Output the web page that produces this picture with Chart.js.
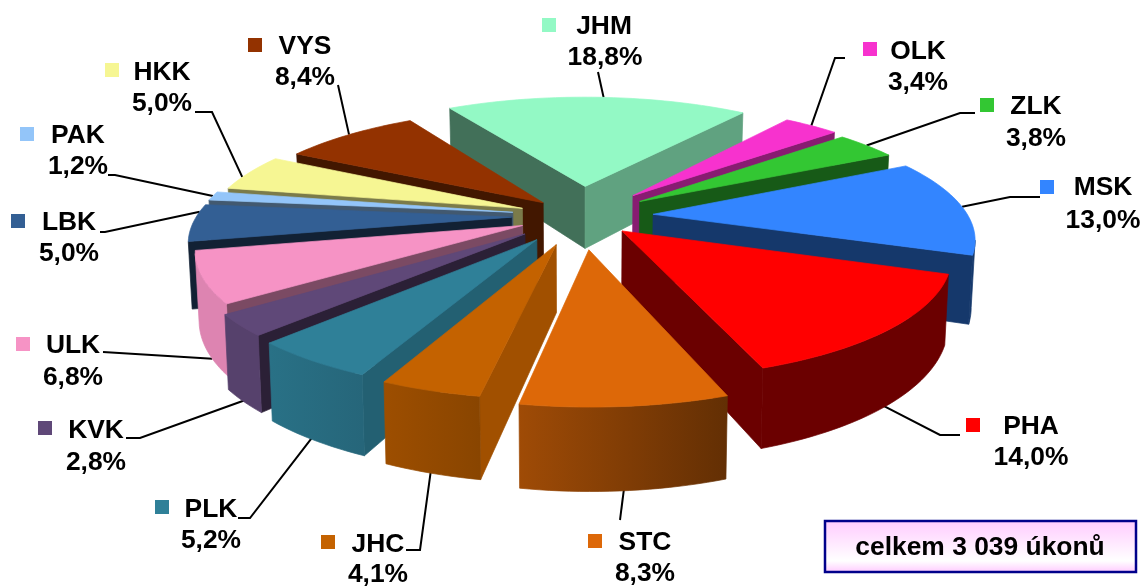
<!DOCTYPE html>
<html>
<head>
<meta charset="utf-8">
<title>Úkony podle krajů</title>
<script src="https://cdn.jsdelivr.net/npm/chart.js@4"></script>
<style>
  html, body { margin: 0; padding: 0; background: #fff; }
  #wrap { position: relative; width: 1144px; height: 587px; }
</style>
</head>
<body>
<div id="wrap"><canvas id="pie"></canvas></div>
<script>
// data
const regions = ["JHM", "OLK", "ZLK", "MSK", "PHA", "STC", "JHC", "PLK", "KVK", "ULK", "LBK", "PAK", "HKK", "VYS"];
const shares = [18.8, 3.4, 3.8, 13.0, 14.0, 8.3, 4.1, 5.2, 2.8, 6.8, 5.0, 1.2, 5.0, 8.4];
const totalNote = "celkem 3 039 úkonů";

// styling
const colours = ["#93F9C5", "#F732CE", "#33C733", "#3385FF", "#FF0000", "#DD6808", "#C46200", "#2F8098", "#5F4878", "#F693C5", "#335F94", "#93C5F9", "#F6F693", "#933200"];
const explode = [27, 25, 23, 23, 18, 28, 25, 24, 23, 20, 22, 22, 20, 17]; // % of radius
const startWall = [.45, .5, .5, .5, .5, .5, .82, .75, .45, .5, .35, .45, .5, .45];
const endWall = [.65, .55, .45, .42, .42, .5, .5, .5, .5, .5, .5, .5, .5, .5];
const rimFrom = [.6, .6, .6, .42, .42, .45, .7, .8, .9, .9, .45, .7, .7, .6];
const rimTo = [.6, .6, .6, .42, .42, .72, .8, .88, .9, .9, .45, .7, .7, .6];

// label layout: name centre x/y, percent centre x/y, key x/y, leader start and elbows
const labelName = [[604, 27], [918, 52], [1036, 107], [1103, 188], [1031, 427], [645, 543], [378, 545], [211, 510], [96, 431], [73, 346], [69, 223], [78, 136], [162, 73], [305, 47]];
const labelPct = [[605, 58], [918, 83], [1036, 139], [1103, 221], [1031, 458], [645, 574], [378, 575], [211, 541], [96, 463], [73, 378], [69, 254], [78, 167], [162, 104], [305, 78]];
const labelKey = [[549, 25], [870, 49], [987, 105], [1047, 187], [973, 425], [595, 541], [328, 542], [162, 507], [45, 428], [23, 344], [18, 221], [27, 134], [112, 70], [255, 45]];
const leaderAlong = [.52, .5, .5, .5, .55, .5, .5, .48, .3, .33, .8, .5, .35, .5]; // share of the slice sweep
const leaderLow = [0, 0, 0, 0, .9, .9, .9, .9, .9, 1, 0, 0, 0, 0];
const leaderTo = [
  [[598, 72]], [[835, 58], [845, 58]], [[960, 113], [975, 113]], [[1010, 197], [1040, 197]],
  [[940, 435], [960, 435]], [[620, 520]], [[420, 550], [406, 550]], [[250, 518], [238, 518]],
  [[140, 438], [126, 438]], [[103, 352]], [[105, 232], [100, 232]], [[115, 175], [108, 175]],
  [[212, 112], [195, 112]], [[338, 85]]
];

// view of the flat pie: centre, horizontal and vertical size, perspective, thickness
const view = { cx: 581, cy: 216, sx: 315, sy: 115, q: 0.18, depth: 65, taper: 0.99 };

function project(u, v, z) {
  const s = 1 / (1 - view.q * v);
  const k = z ? view.taper : 1;
  return [view.cx + u * view.sx * s * k, view.cy + v * view.sy * s + z * view.depth * s];
}

function shade(hex, f) {
  const n = parseInt(hex.slice(1), 16);
  const c = [n >> 16, (n >> 8) & 255, n & 255].map(x => Math.round(x * f));
  return `rgb(${c[0]},${c[1]},${c[2]})`;
}

function cross(a, b, c) {
  return (b[0] - a[0]) * (c[1] - a[1]) - (b[1] - a[1]) * (c[0] - a[0]);
}

// wall below edge a-b is seen only if "down" leaves the slice on that side
function faces(a, b, inside) {
  const down = [a[0], a[1] + 10];
  return Math.sign(cross(a, b, down)) !== Math.sign(cross(a, b, inside));
}

function poly(ctx, pts, fill) {
  ctx.beginPath();
  pts.forEach((p, i) => (i ? ctx.lineTo(p[0], p[1]) : ctx.moveTo(p[0], p[1])));
  ctx.closePath();
  ctx.fillStyle = fill;
  ctx.fill();
  ctx.strokeStyle = fill;
  ctx.lineWidth = 0.7;
  ctx.stroke();
}

function drawSlice(ctx, el, i) {
  const { startAngle, endAngle } = el.getProps(["startAngle", "endAngle"], true);
  const mid = (startAngle + endAngle) / 2;
  const off = el.options.offset / 100;
  const ou = off * Math.cos(mid), ov = off * Math.sin(mid);
  const base = colours[i];

  const at = (a, r, z) => project(ou + r * Math.cos(a), ov + r * Math.sin(a), z);
  const apex = at(mid, 0, 0), apexLow = at(mid, 0, 1);
  const steps = Math.max(8, Math.round((endAngle - startAngle) * 40));

  const s0 = at(startAngle, 1, 0), e0 = at(endAngle, 1, 0);
  const walls = [
    [s0, at(startAngle, 1, 1), startWall[i], e0],
    [e0, at(endAngle, 1, 1), endWall[i], s0]
  ];
  walls.forEach(w => {
    if (faces(apex, w[0], w[3])) poly(ctx, [apex, w[0], w[1], apexLow], shade(base, w[2]));
  });

  // outer wall: the seen part of the rim as one shape
  const upper = [], lower = [];
  for (let k = 0; k < steps; k++) {
    const a1 = startAngle + (endAngle - startAngle) * k / steps;
    const a2 = startAngle + (endAngle - startAngle) * (k + 1) / steps;
    const p1 = at(a1, 1, 0), p2 = at(a2, 1, 0);
    if (!faces(p1, p2, apex)) continue;
    if (!upper.length) { upper.push(p1); lower.push(at(a1, 1, 1)); }
    upper.push(p2);
    lower.push(at(a2, 1, 1));
  }
  if (upper.length) {
    const g = ctx.createLinearGradient(s0[0], 0, e0[0], 0);
    g.addColorStop(0, shade(base, rimFrom[i]));
    g.addColorStop(1, shade(base, rimTo[i]));
    poly(ctx, upper.concat(lower.reverse()), g);
  }

  const top = [apex];
  for (let k = 0; k <= steps; k++) top.push(at(startAngle + (endAngle - startAngle) * k / steps, 1, 0));
  poly(ctx, top, base);
}

const pie3d = {
  id: "pie3d",
  // the library lays the arcs out, this plugin paints them tilted
  beforeDatasetDraw(chart) {
    const ctx = chart.ctx;
    const arcs = chart.getDatasetMeta(0).data;

    // leaders go under the slices
    ctx.save();
    ctx.strokeStyle = "#000";
    ctx.lineWidth = 2;
    arcs.forEach((el, i) => {
      const { startAngle, endAngle } = el.getProps(["startAngle", "endAngle"], true);
      const mid = (startAngle + endAngle) / 2;
      const a = startAngle + (endAngle - startAngle) * leaderAlong[i];
      const off = el.options.offset / 100;
      const p = project(off * Math.cos(mid) + Math.cos(a), off * Math.sin(mid) + Math.sin(a), leaderLow[i]);
      ctx.beginPath();
      ctx.moveTo(p[0], p[1]);
      leaderTo[i].forEach(q => ctx.lineTo(q[0], q[1]));
      ctx.stroke();
    });

    // back to front
    const order = arcs.map((el, i) => {
      const { startAngle, endAngle } = el.getProps(["startAngle", "endAngle"], true);
      return { i, key: Math.sin((startAngle + endAngle) / 2) };
    }).sort((a, b) => a.key - b.key);
    order.forEach(o => drawSlice(ctx, arcs[o.i], o.i));
    ctx.restore();
    return false;
  },
  afterDraw(chart) {
    const ctx = chart.ctx;
    ctx.save();
    ctx.font = "bold 26.4px 'Liberation Sans', Arial, sans-serif";
    ctx.textAlign = "center";
    ctx.textBaseline = "middle";
    regions.forEach((name, i) => {
      ctx.fillStyle = colours[i];
      ctx.fillRect(labelKey[i][0] - 7, labelKey[i][1] - 7, 14, 14);
      ctx.fillStyle = "#000";
      ctx.fillText(name, labelName[i][0], labelName[i][1]);
      ctx.fillText(shares[i].toFixed(1).replace(".", ",") + "%", labelPct[i][0], labelPct[i][1]);
    });

    // note box
    const g = ctx.createLinearGradient(0, 521, 0, 572);
    g.addColorStop(0, "#FFCCFF");
    g.addColorStop(0.78, "#FFFFFF");
    g.addColorStop(1, "#FFCCFF");
    ctx.fillStyle = g;
    ctx.fillRect(825, 521, 311, 51);
    ctx.strokeStyle = "#00008B";
    ctx.lineWidth = 2.5;
    ctx.strokeRect(825, 521, 311, 51);
    ctx.fillStyle = "#000";
    ctx.fillText(totalNote, 980, 548);
    ctx.restore();
  }
};

new Chart(document.getElementById("pie"), {
  type: "pie",
  data: {
    labels: regions,
    datasets: [{ data: shares, backgroundColor: colours, offset: explode, borderWidth: 0 }]
  },
  options: {
    responsive: true,
    maintainAspectRatio: false,
    animation: false,
    rotation: -31,
    events: [],
    plugins: { legend: { display: false }, tooltip: { enabled: false } }
  },
  plugins: [pie3d]
});
</script>
</body>
</html>
